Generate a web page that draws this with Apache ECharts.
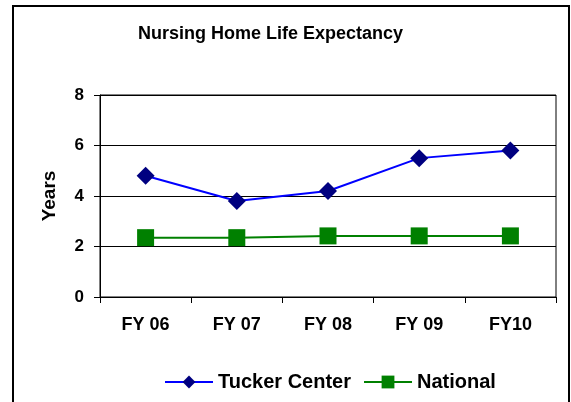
<!DOCTYPE html>
<html>
<head>
<meta charset="utf-8">
<script src="https://cdn.jsdelivr.net/npm/echarts@6/dist/echarts.min.js"></script>
<style>
  html, body { margin: 0; padding: 0; background: #fff; }
  #chart { width: 571px; height: 402px; }
</style>
</head>
<body>
<div id="chart"></div>
<script>
// 数据
var years = ['FY 06', 'FY 07', 'FY 08', 'FY 09', 'FY10'];
var tucker = [4.8, 3.8, 4.2, 5.5, 5.8];
var national = [2.35, 2.35, 2.42, 2.42, 2.42];

var font = 'Liberation Sans, Arial, sans-serif';

var myChart = echarts.init(document.getElementById('chart'));
var option = {
  backgroundColor: '#fff',
  animation: false,
  title: {
    text: 'Nursing Home Life Expectancy',
    left: 133,
    top: 20,
    textStyle: { fontFamily: font, fontSize: 18, fontWeight: 'bold', color: '#000' }
  },
  graphic: [{
    type: 'rect',
    shape: { x: 13, y: 6, width: 556, height: 430 },
    style: { fill: null, stroke: '#000', lineWidth: 2 },
    silent: true
  }],
  legend: {
    bottom: 5,
    left: 159,
    itemWidth: 48,
    itemHeight: 16,
    itemGap: 12,
    textStyle: { fontFamily: font, fontSize: 20, fontWeight: 'bold', color: '#000' },
    data: ['Tucker Center', 'National']
  },
  grid: {
    left: 100,
    top: 95,
    right: 15,
    bottom: 105,
    show: true,
    borderColor: '#000',
    borderWidth: 1
  },
  xAxis: {
    type: 'category',
    data: years,
    boundaryGap: true,
    axisLine: { lineStyle: { color: '#000', width: 1 } },
    axisTick: { show: true, length: 6, lineStyle: { color: '#000' } },
    axisLabel: { fontFamily: font, fontSize: 18, fontWeight: 'bold', color: '#000', margin: 19 }
  },
  yAxis: {
    type: 'value',
    min: 0,
    max: 8,
    interval: 2,
    name: 'Years',
    nameLocation: 'middle',
    nameGap: 41,
    nameTextStyle: { fontFamily: font, fontSize: 19, fontWeight: 'bold', color: '#000' },
    axisLine: { show: true, lineStyle: { color: '#000', width: 1 } },
    axisTick: { show: true, length: 6, lineStyle: { color: '#000' } },
    axisLabel: { fontFamily: font, fontSize: 17, fontWeight: 'bold', color: '#000', margin: 16 },
    splitLine: { show: true, lineStyle: { color: '#000', width: 1 } }
  },
  series: [
    {
      name: 'Tucker Center',
      type: 'line',
      data: tucker,
      symbol: 'diamond',
      symbolSize: 18,
      itemStyle: { color: '#000080' },
      lineStyle: { color: '#0000ff', width: 2 }
    },
    {
      name: 'National',
      type: 'line',
      data: national,
      symbol: 'rect',
      symbolSize: 17,
      itemStyle: { color: '#008000' },
      lineStyle: { color: '#008000', width: 2 }
    }
  ]
};
myChart.setOption(option);
</script>
</body>
</html>
